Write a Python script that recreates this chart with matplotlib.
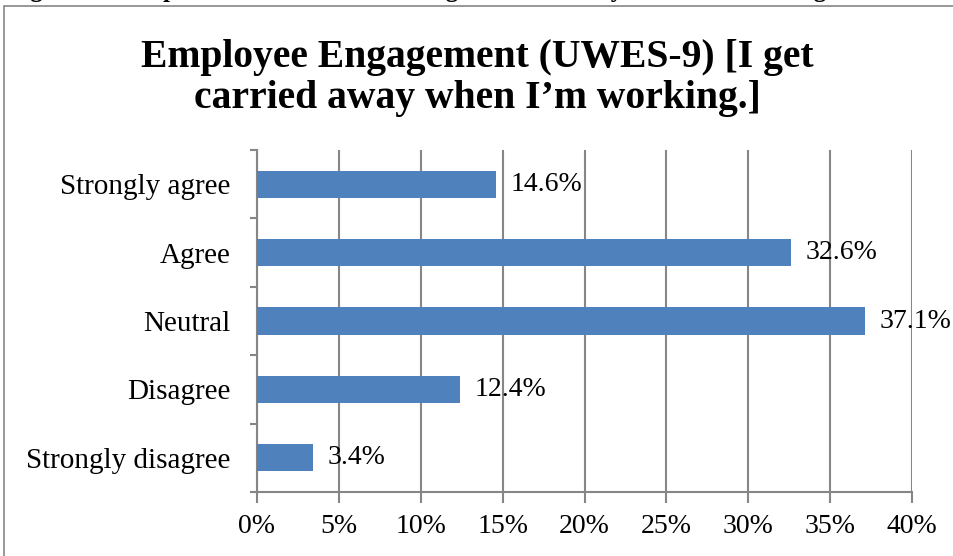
import matplotlib.pyplot as plt
from matplotlib.patches import Rectangle
from matplotlib.ticker import FuncFormatter

# Responses, listed bottom to top as they appear on the chart
categories = ["Strongly disagree", "Disagree", "Neutral", "Agree", "Strongly agree"]
shares = [3.4, 12.4, 37.1, 32.6, 14.6]
xticks = [0, 5, 10, 15, 20, 25, 30, 35, 40]

title = "Employee Engagement (UWES-9) [I get\ncarried away when I\u2019m working.]"
caption = "Figure 38: Responses to the statement \u201cI get carried away when I\u2019m working\u201d"

plt.rcParams['font.family'] = ['Liberation Serif', 'DejaVu Serif']
grey = '#868686'
bar_col = '#4F81BD'

fig = plt.figure(figsize=(9.54, 5.56), dpi=100)
# chart frame
fig.patches.append(Rectangle((4 / 954, -0.01), 1.0, 1.0 - 6 / 556 + 0.01,
                             transform=fig.transFigure, fill=False,
                             edgecolor=grey, linewidth=1.2))
# document caption sitting above the chart (only its lowest strokes on the page)
fig.text(8 / 954, 1 + 2.5 / 556, caption, ha='left', va='baseline',
         fontsize=18, fontweight='bold')

ax = fig.add_axes([257 / 954, 1 - 492 / 556, (912 - 257) / 954, (492 - 150) / 556])

ypos = range(len(categories))
ax.barh(ypos, shares, height=0.4, color=bar_col, zorder=3)
for y, v in zip(ypos, shares):
    ax.text(v + 0.9, y, f"{v:.1f}%", va='center', ha='left', fontsize=20, zorder=4)

ax.set_xlim(0, 40)
ax.set_ylim(-0.5, len(categories) - 0.5)
ax.set_xticks(xticks)
ax.xaxis.set_major_formatter(FuncFormatter(lambda v, p: f"{v:.0f}%"))
ax.set_yticks(list(ypos))
ax.set_yticklabels(categories)
ax.set_yticks([i - 0.5 for i in range(len(categories) + 1)], minor=True)

ax.grid(axis='x', color=grey, linewidth=1.5, zorder=0)
for side in ['top', 'right']:
    ax.spines[side].set_visible(False)
for side in ['left', 'bottom']:
    ax.spines[side].set_color(grey)
    ax.spines[side].set_linewidth(1.5)

ax.tick_params(axis='x', length=8, width=1.5, color=grey, labelsize=20, pad=8)
ax.tick_params(axis='y', which='major', length=0, labelsize=21, pad=19)
ax.tick_params(axis='y', which='minor', length=5, width=1.5, color=grey)

fig.text(0.5, 1 - 78 / 556, title, ha='center', va='center',
         fontsize=28.5, fontweight='bold', linespacing=1.12)

fig.savefig('out.png', dpi=100)
